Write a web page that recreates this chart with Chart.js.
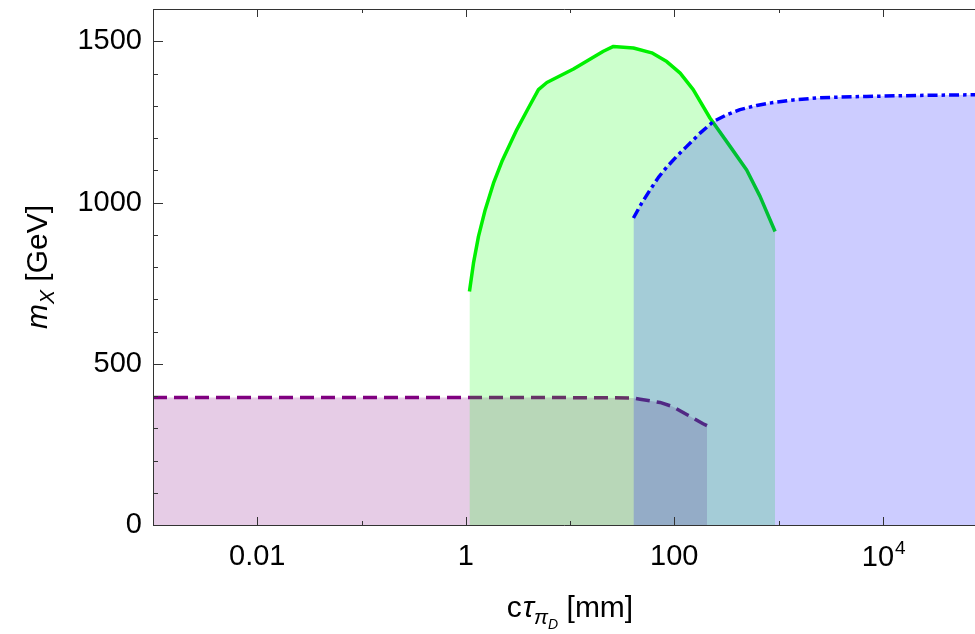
<!DOCTYPE html>
<html>
<head>
<meta charset="utf-8">
<script src="https://cdn.jsdelivr.net/npm/chart.js@4.4.1/dist/chart.umd.min.js"></script>
<style>
    html, body { margin: 0; padding: 0; background: #fff; }
</style>
</head>
<body>
<canvas id="lifetimeChart" width="975" height="634"></canvas>
<script>

// c*tau [mm] vs m_X [GeV] reach curves
var purpleTau  = [0.001, 1, 10, 40, 47, 73, 97, 133, 189, 206];
var purpleMass = [395, 395, 395, 394, 390, 380, 367, 342, 314, 308];

var greenTau  = [1.085, 1.186, 1.325, 1.535, 1.845, 2.22, 3.09, 3.99, 4.98, 6.0, 10.8, 20.9, 26.1, 40.6, 60.8, 84.7, 114, 152, 220, 343, 495, 665, 927];
var greenMass = [724, 812, 895, 977, 1060, 1127, 1226, 1293, 1350, 1372, 1414, 1469, 1484, 1479, 1464, 1437, 1401, 1350, 1262, 1174, 1101, 1019, 910];

var blueTau  = [40.6, 48.7, 58.6, 70.5, 84.8, 105.6, 131.8, 176.7, 237, 318, 427, 618, 891, 1387, 2323, 3890, 7015, 21100, 73800, 100000];
var blueMass = [952, 998, 1039, 1078, 1110, 1143, 1174, 1215, 1251, 1272, 1288, 1301, 1310, 1318, 1324, 1327, 1329, 1332, 1334, 1334];

// labels written as base^exponent get a raised exponent
var xTickValues = [0.01, 1, 100, 10000];
var xTickLabels = ['0.01', '1', '100', '10^4'];
var xMinorTicks = [0.001, 0.1, 10, 1000];
var yTickValues = [0, 500, 1000, 1500];
var yTickLabels = ['0', '500', '1000', '1500'];
var yMinorTicks = [100, 200, 300, 400, 600, 700, 800, 900, 1100, 1200, 1300, 1400];

function toPoints(xs, ys) {
    return xs.map(function(x, i) { return { x: x, y: ys[i] }; });
}

var FONT = "'Liberation Sans', Arial, Helvetica, sans-serif";

// frame, inward tick marks, power labels and the axis titles
var framePlugin = {
    id: 'frame',
    afterDatasetsDraw: function(chart) {
        var ctx = chart.ctx;
        var a = chart.chartArea;
        var xs = chart.scales.x, ys = chart.scales.y;
        ctx.save();
        ctx.strokeStyle = '#333';
        ctx.lineWidth = 1;
        ctx.beginPath();
        ctx.moveTo(a.right + 1, a.top + 0.5);
        ctx.lineTo(a.left + 0.5, a.top + 0.5);
        ctx.lineTo(a.left + 0.5, a.bottom + 0.5);
        ctx.lineTo(a.right + 1, a.bottom + 0.5);

        function xTick(v, len) {
            var px = Math.round(xs.getPixelForValue(v)) + 0.5;
            ctx.moveTo(px, a.bottom);
            ctx.lineTo(px, a.bottom - len);
            ctx.moveTo(px, a.top);
            ctx.lineTo(px, a.top + len);
        }
        function yTick(v, len) {
            var py = Math.round(ys.getPixelForValue(v)) + 0.5;
            ctx.moveTo(a.left, py);
            ctx.lineTo(a.left + len, py);
        }
        xTickValues.forEach(function(v) { xTick(v, 8); });
        xMinorTicks.forEach(function(v) { xTick(v, 4); });
        yTickValues.forEach(function(v) { yTick(v, 10); });
        yMinorTicks.forEach(function(v) { yTick(v, 5); });
        ctx.stroke();
        ctx.restore();
    },
    afterDraw: function(chart) {
        var ctx = chart.ctx;
        var a = chart.chartArea;

        function drawParts(parts, cx, baseY) {
            var total = 0;
            parts.forEach(function(p) {
                ctx.font = p.font;
                p.w = ctx.measureText(p.t).width;
                total += p.w + (p.gap || 0);
            });
            var x = cx - total / 2;
            parts.forEach(function(p) {
                ctx.font = p.font;
                ctx.fillText(p.t, x, baseY + (p.dy || 0));
                x += p.w + (p.gap || 0);
            });
        }

        ctx.save();
        ctx.fillStyle = '#000';
        ctx.textBaseline = 'alphabetic';
        ctx.textAlign = 'left';

        // power-of-ten tick labels
        xTickValues.forEach(function(v, i) {
            var lbl = xTickLabels[i];
            if (lbl.indexOf('^') < 0) return;
            var bits = lbl.split('^');
            drawParts([
                { t: bits[0], font: '29px ' + FONT, gap: 1 },
                { t: bits[1], font: '19px ' + FONT, dy: -12 }
            ], chart.scales.x.getPixelForValue(v) + 1, 566);
        });

        // x title: c tau_{pi_D} [mm]
        drawParts([
            { t: 'c', font: '30px ' + FONT, gap: 1 },
            { t: '\u03c4', font: 'italic 30px ' + FONT },
            { t: '\u03c0', font: 'italic 21px ' + FONT, dy: 7 },
            { t: 'D', font: 'italic 14px ' + FONT, dy: 12 },
            { t: ' [mm]', font: '30px ' + FONT }
        ], (a.left + a.right) / 2 + 6, 617);

        // y title: m_X [GeV]
        ctx.translate(47, (a.top + a.bottom) / 2);
        ctx.rotate(-Math.PI / 2);
        drawParts([
            { t: 'm', font: 'italic 30px ' + FONT },
            { t: 'X', font: 'italic 21px ' + FONT, dy: 7 },
            { t: ' [GeV]', font: '30px ' + FONT }
        ], 0, 0);
        ctx.restore();
    }
};

var ctx = document.getElementById('lifetimeChart').getContext('2d');
var lifetimeChart = new Chart(ctx, {
    type: 'line',
    data: {
        datasets: [{
            // dash-dotted blue, drawn on top
            data: toPoints(blueTau, blueMass),
            borderColor: '#0000ff',
            backgroundColor: 'rgba(0, 0, 255, 0.2)',
            borderWidth: 3.5,
            borderDash: [10, 4, 3.5, 4],
            fill: 'origin',
            order: 1
        }, {
            // solid green
            data: toPoints(greenTau, greenMass),
            borderColor: '#00f000',
            backgroundColor: 'rgba(0, 255, 0, 0.2)',
            borderWidth: 3.5,
            fill: 'origin',
            order: 2
        }, {
            // dashed purple
            data: toPoints(purpleTau, purpleMass),
            borderColor: '#800080',
            backgroundColor: 'rgba(128, 0, 128, 0.2)',
            borderWidth: 3.5,
            borderDash: [14, 7],
            fill: 'origin',
            order: 3
        }]
    },
    options: {
        responsive: false,
        animation: false,
        events: [],
        layout: { padding: { top: 9, right: 0, left: 0, bottom: 0 } },
        elements: {
            point: { radius: 0 },
            line: { tension: 0, borderCapStyle: 'butt', borderJoinStyle: 'round' }
        },
        plugins: {
            legend: { display: false },
            tooltip: { enabled: false },
            filler: { drawTime: 'beforeDatasetDraw' }
        },
        scales: {
            x: {
                type: 'logarithmic',
                min: 0.001,
                max: 76700,
                grid: { display: false, drawTicks: false },
                border: { display: false },
                afterBuildTicks: function(scale) {
                    scale.ticks = xTickValues.map(function(v) { return { value: v }; });
                },
                afterFit: function(scale) {
                    scale.height = 109;
                    scale.paddingLeft = 0;
                    scale.paddingRight = 0;
                },
                ticks: {
                    autoSkip: false,
                    maxRotation: 0,
                    padding: 15,
                    color: '#000',
                    font: { family: FONT, size: 29 },
                    callback: function(value) {
                        var i = xTickValues.indexOf(value);
                        if (i < 0 || xTickLabels[i].indexOf('^') >= 0) return '';
                        return xTickLabels[i];
                    }
                }
            },
            y: {
                type: 'linear',
                min: 0,
                max: 1600,
                grid: { display: false, drawTicks: false },
                border: { display: false },
                afterBuildTicks: function(scale) {
                    scale.ticks = yTickValues.map(function(v) { return { value: v }; });
                },
                afterFit: function(scale) {
                    scale.width = 153;
                    scale.paddingTop = 0;
                    scale.paddingBottom = 0;
                },
                ticks: {
                    padding: 11,
                    color: '#000',
                    font: { family: FONT, size: 29 },
                    callback: function(value) {
                        var i = yTickValues.indexOf(value);
                        return i >= 0 ? yTickLabels[i] : '';
                    }
                }
            }
        }
    },
    plugins: [framePlugin]
});
</script>
</body>
</html>
